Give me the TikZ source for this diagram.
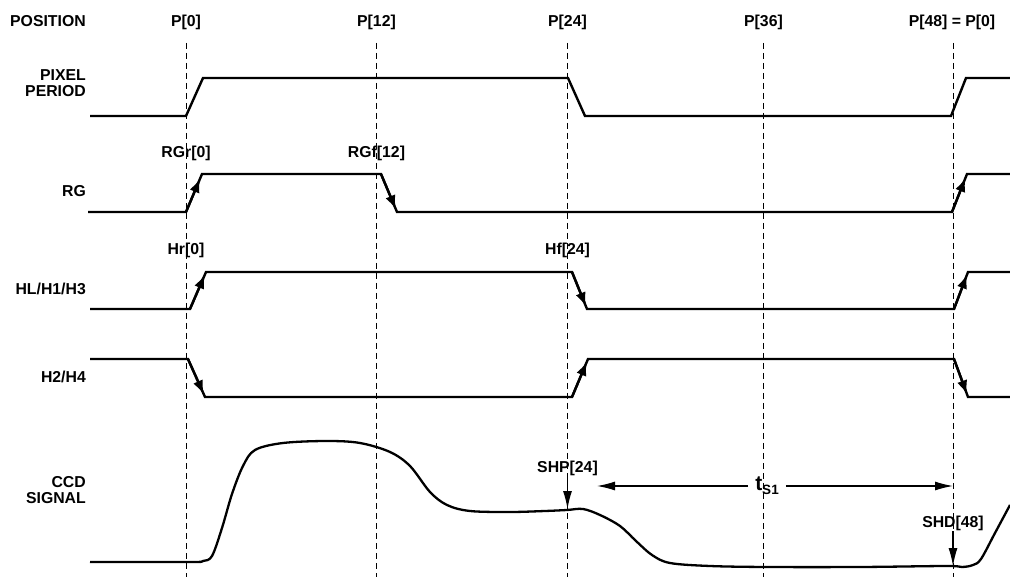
\documentclass[tikz,border=0pt]{standalone}
\usepackage{fontspec}
\setmainfont{Liberation Sans}
\usetikzlibrary{arrows.meta,calc}
\begin{document}
\begin{tikzpicture}[x=1pt,y=-1pt,
  lbl/.style={font=\fontsize{15.8}{16}\selectfont\bfseries, inner sep=0pt},
  sig/.style={lbl, align=right, anchor=base east},
  gridline/.style={line width=1pt, dash pattern=on 6pt off 4pt},
  wave/.style={line width=2.4pt, line join=miter},
  tr/.style={line width=2.4pt, -{Latex[length=14pt,width=10.5pt]}},
  dim/.style={line width=1.2pt, -{Latex[length=18pt,width=9pt]}}]
\useasboundingbox (0,0) rectangle (1010,577);
\fill[white] (0,0) rectangle (1010,577);

% top labels
\node[lbl, anchor=base west] (pos) at (10,27) {POSITION};
\node[lbl, anchor=base] (p0) at (186,27) {P[0]};
\node[lbl, anchor=base] (p12) at (376.5,27) {P[12]};
\node[lbl, anchor=base] (p24) at (567.5,27) {P[24]};
\node[lbl, anchor=base] (p36) at (763.5,27) {P[36]};
\node[lbl, anchor=base] (p48) at (952,27) {P[48] = P[0]};

% grid lines
\foreach \gx in {186,376.5,567.5,763.5,953}
  \draw[gridline] (\gx,43) -- (\gx,577);

% signal names
\node[sig] (pp) at (86,97) {PIXEL\\PERIOD};
\node[sig] (rg) at (86,197) {RG};
\node[sig] (hl) at (86,295) {HL/H1/H3};
\node[sig] (h2) at (86,383) {H2/H4};
\node[sig] (ccd) at (86,503) {CCD\\SIGNAL};

% PIXEL PERIOD
\draw[wave] (90,116) -- (186,116) -- (203,78) -- (568,78) -- (585,116) -- (951,116) -- (966,78) -- (1010,78);

% RG
\coordinate (rgA) at (186,212); \coordinate (rgB) at (202,174);
\coordinate (rgC) at (381,174); \coordinate (rgD) at (397,212);
\coordinate (rgE) at (952,212); \coordinate (rgF) at (967,174);
\draw[wave] (88,212) -- (rgA) -- (rgB) -- (rgC) -- (rgD) -- (rgE) -- (rgF) -- (1010,174);
\draw[tr] (rgA) -- ($(rgA)!0.88!(rgB)$);
\draw[tr] (rgC) -- ($(rgC)!0.93!(rgD)$);
\draw[tr] (rgE) -- ($(rgE)!0.9!(rgF)$);
\node[lbl, anchor=base] (rgr) at (186,158) {RGr[0]};
\node[lbl, anchor=base] (rgf) at (376.5,158) {RGf[12]};

% HL/H1/H3
\coordinate (hlA) at (190,309); \coordinate (hlB) at (206,272);
\coordinate (hlC) at (572,272); \coordinate (hlD) at (587,309);
\coordinate (hlE) at (954,309); \coordinate (hlF) at (968,272);
\draw[wave] (90,309) -- (hlA) -- (hlB) -- (hlC) -- (hlD) -- (hlE) -- (hlF) -- (1010,272);
\draw[tr] (hlA) -- ($(hlA)!0.93!(hlB)$);
\draw[tr] (hlC) -- ($(hlC)!0.93!(hlD)$);
\draw[tr] (hlE) -- ($(hlE)!0.93!(hlF)$);
\node[lbl, anchor=base] (hr) at (186,255) {Hr[0]};
\node[lbl, anchor=base] (hf) at (567.5,255) {Hf[24]};

% H2/H4
\coordinate (h2A) at (188,359); \coordinate (h2B) at (205,397);
\coordinate (h2C) at (572,397); \coordinate (h2D) at (588,359);
\coordinate (h2E) at (954,359); \coordinate (h2F) at (968,397);
\draw[wave] (90,359) -- (h2A) -- (h2B) -- (h2C) -- (h2D) -- (h2E) -- (h2F) -- (1010,397);
\draw[tr] (h2A) -- ($(h2A)!0.93!(h2B)$);
\draw[tr] (h2C) -- ($(h2C)!0.93!(h2D)$);
\draw[tr] (h2E) -- ($(h2E)!0.93!(h2F)$);

% CCD signal
\draw[line width=2.3pt, line join=round] plot[smooth, tension=0.55] coordinates {
 (90,562) (190,562) (203,561) (212,556) (222,528) (232,494) (243,466) (255,450)
 (283,443) (327,441) (360,443) (390,452) (410,466) (430,492) (447,505) (470,511)
 (510,512) (545,511) (567,510) (583,509) (600,515) (620,526) (636,541) (652,555)
 (670,563) (710,566) (767,567) (860,567) (947,566) (962,567) (973,565) (981,559)
 (995,533) (1010,505)};

% SHP / SHD
\coordinate (shpT) at (567.5,509);
\coordinate (shdT) at (953,566);
\node[lbl, anchor=base, inner sep=1pt] (shp) at (567.5,472) {SHP[24]};
\node[lbl, anchor=base, inner sep=1pt] (shd) at (953,527) {SHD[48]};
\draw[dim] (shp.south) -- (shpT);
\draw[dim] (shd.south) -- (shdT);

% t_S1
\coordinate (tsL) at (597,486);
\coordinate (tsR) at (953,486);
\node[lbl, anchor=base, inner xsep=7pt] (ts) at (767,490) {\fontsize{21}{21}\selectfont t\raisebox{-4pt}{\fontsize{13.5}{13.5}\selectfont S1}};
\draw[dim] (ts.west |- tsL) -- (tsL);
\draw[dim] (ts.east |- tsR) -- (tsR);
\end{tikzpicture}
\end{document}
